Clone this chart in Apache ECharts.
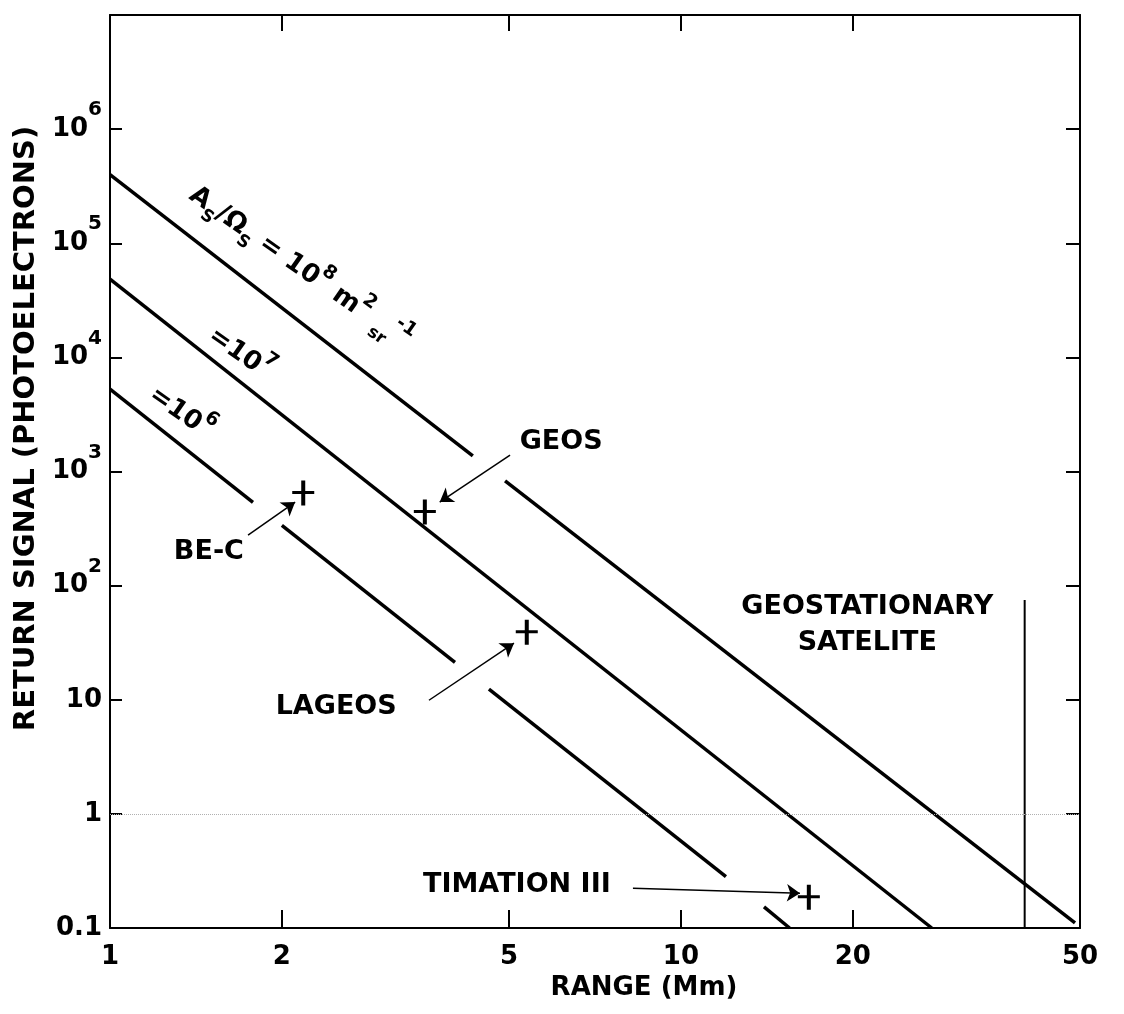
<!DOCTYPE html>
<html>
<head>
<meta charset="utf-8">
<title>Return signal vs range</title>
<script src="https://cdn.jsdelivr.net/npm/echarts@6/dist/echarts.min.js"></script>
<style>
	html, body { margin: 0; padding: 0; background: #fff; }
	#container { width: 1124px; height: 1014px; }
</style>
</head>
<body>
<div id="container"></div>
<script>
// axis values
var rangeLabels = [1, 2, 5, 10, 20, 50];
var rangeTicks = [2, 5, 10, 20];
var signalLabels = [0.1, 1, 10, 100, 1000, 10000, 100000, 1000000];
var signalTicks = [1, 10, 100, 1000, 10000, 100000, 1000000];

// A/Omega lines, pieces between the gaps : [range, signal]
var line1e8 = [
	[[1, 400000], [4.32, 1370]],
	[[4.92, 826], [49, 0.111]]
];
var line1e7 = [
	[[1, 48500], [27.5, 0.1]]
];
var line1e6 = [
	[[1, 5270], [1.78, 537]],
	[[2.0, 338], [4.02, 21.3]],
	[[4.61, 12.4], [11.99, 0.282]],
	[[13.98, 0.153], [15.5, 0.1]]
];

// geostationary range
var geoRange = 40;
var geoSignal = [0.1, 75];

// satellites
var satNames = ['BE-C', 'GEOS', 'LAGEOS', 'TIMATION III'];
var satRange = [2.18, 3.56, 5.37, 16.75];
var satSignal = [647, 441, 39, 0.186];

// arrows from the name to the satellite
var arrowStart = [[1.745, 277], [5.02, 1393], [3.62, 9.9], [8.24, 0.223]];
var arrowEnd = [[2.11, 540], [3.78, 540], [5.10, 31.3], [16.16, 0.202]];
var nameAt = [[1.49, 197], [6.17, 1811], [2.49, 8.6], [5.16, 0.237]];

var geoText = 'GEOSTATIONARY\nSATELITE';
var geoTextAt = [21.2, 45];

// exponent labels along the lines
var ratioExp = ['8', '7', '6'];
var ratioAt = [[2.15, 60700], [1.69, 10700], [1.33, 3250]];

var FONT = 'DejaVu Sans';

function exp_label(v)
{
	var e = Math.round(Math.log(v) / Math.LN10);
	if(e == -1) return '{n|0.1}';
	if(e == 0) return '{n|1}';
	if(e == 1) return '{n|10}';
	return '{n|10}{p|' + e + '}';
}

function make_series()
{
	var series = [];
	var groups = [line1e8, line1e7, line1e6];
	for(var g = 0; g < groups.length; g++)
	{
		for(var i = 0; i < groups[g].length; i++)
		{
			series.push({
				type: 'line',
				data: groups[g][i],
				showSymbol: false,
				silent: true,
				lineStyle: { color: '#000', width: 3.5 }
			});
		}
	}

	// geostationary
	series.push({
		type: 'line',
		data: [[geoRange, geoSignal[0]], [geoRange, geoSignal[1]]],
		showSymbol: false,
		silent: true,
		lineStyle: { color: '#000', width: 2 },
		markLine: {
			silent: true,
			symbol: 'none',
			label: { show: false },
			lineStyle: { type: 'dotted', color: '#b0b0b0', width: 1 },
			data: [{ yAxis: 1 }]
		}
	});

	// satellites
	var pts = [];
	for(var i = 0; i < satNames.length; i++)
	{
		pts.push({ name: satNames[i], value: [satRange[i], satSignal[i]] });
	}
	series.push({
		type: 'scatter',
		data: pts,
		symbol: 'path://M9,0 L13,0 L13,10 L22,10 L22,13 L13,13 L13,24 L9,24 L9,13 L0,13 L0,10 L9,10 Z',
		symbolSize: [22, 25],
		itemStyle: { color: '#000', opacity: 1 },
		silent: true
	});

	// arrows
	var arr = [];
	for(var i = 0; i < arrowStart.length; i++)
	{
		arr.push({ coords: [arrowStart[i], arrowEnd[i]] });
	}
	series.push({
		type: 'lines',
		coordinateSystem: 'cartesian2d',
		data: arr,
		symbol: ['none', 'arrow'],
		symbolSize: 13,
		silent: true,
		lineStyle: { color: '#000', width: 1.5, opacity: 1, curveness: 0 }
	});

	// texts
	var txt = [];
	for(var i = 0; i < satNames.length; i++)
	{
		txt.push({ value: nameAt[i], label: { formatter: satNames[i] } });
	}
	txt.push({ value: geoTextAt, label: { formatter: geoText, lineHeight: 36 } });
	txt.push({
		value: ratioAt[0],
		label: {
			rotate: -35,
			formatter: '{b|A}{s|S}{b|/Ω}{s|S}{b| = 10}{u|' + ratioExp[0] + '}{b| m}{u|2}{b| }{s|sr}{u|-1}'
		}
	});
	for(var i = 1; i < ratioAt.length; i++)
	{
		txt.push({
			value: ratioAt[i],
			label: { rotate: -35, formatter: '{b|=10}{u|' + ratioExp[i] + '}' }
		});
	}
	series.push({
		type: 'scatter',
		data: txt,
		symbolSize: 0,
		silent: true,
		itemStyle: { opacity: 1 },
		label: {
			show: true,
			position: 'inside',
			align: 'center',
			verticalAlign: 'middle',
			color: '#000',
			opacity: 1,
			fontFamily: FONT,
			fontWeight: 'bold',
			fontSize: 27,
			rich: {
				b: { fontFamily: FONT, fontWeight: 'bold', fontSize: 26, lineHeight: 30, color: '#000' },
				s: { fontFamily: FONT, fontWeight: 'bold', fontSize: 17, lineHeight: 17, padding: [18, 0, 0, 0], verticalAlign: 'top', color: '#000' },
				u: { fontFamily: FONT, fontWeight: 'bold', fontSize: 19, lineHeight: 19, padding: [0, 0, 18, 0], verticalAlign: 'bottom', color: '#000' }
			}
		}
	});
	return series;
}

function draw_chart()
{
	var dom = document.getElementById('container');
	var myChart = echarts.init(dom, null, { renderer: 'canvas' });
	var axisLine = { show: true, onZero: false, lineStyle: { color: '#000', width: 2 } };
	var tickStyle = { color: '#000', width: 2 };

	var option = {
		animation: false,
		backgroundColor: '#fff',
		grid: { left: 110, right: 44, top: 15, bottom: 86 },
		xAxis: [
			{
				type: 'log', logBase: 10, min: 1, max: 50, position: 'bottom',
				name: 'RANGE (Mm)', nameLocation: 'middle', nameGap: 42,
				nameTextStyle: { color: '#000', fontFamily: FONT, fontWeight: 'bold', fontSize: 26, padding: [0, 0, 0, 98] },
				axisLine: axisLine,
				axisTick: { show: true, inside: true, length: 18, customValues: rangeTicks, lineStyle: tickStyle },
				axisLabel: {
					show: true, margin: 16, customValues: rangeLabels,
					color: '#000', fontFamily: FONT, fontWeight: 'bold', fontSize: 26,
					formatter: function(v) { return String(Math.round(v)); }
				},
				splitLine: { show: false },
				minorTick: { show: false }
			},
			{
				type: 'log', logBase: 10, min: 1, max: 50, position: 'top',
				axisLine: axisLine,
				axisTick: { show: true, inside: true, length: 16, customValues: rangeTicks, lineStyle: tickStyle },
				axisLabel: { show: false },
				splitLine: { show: false }
			}
		],
		yAxis: [
			{
				type: 'log', logBase: 10, min: 0.1, max: 10000000, position: 'left',
				name: 'RETURN SIGNAL (PHOTOELECTRONS)', nameLocation: 'middle', nameRotate: 90, nameGap: 66,
				nameTextStyle: { color: '#000', fontFamily: FONT, fontWeight: 'bold', fontSize: 29, padding: [0, 0, 0, 86] },
				axisLine: axisLine,
				axisTick: { show: true, inside: true, length: 12, customValues: signalTicks, lineStyle: tickStyle },
				axisLabel: {
					show: true, margin: 8, customValues: signalLabels,
					formatter: exp_label,
					rich: {
						n: { color: '#000', fontFamily: FONT, fontWeight: 'bold', fontSize: 26, lineHeight: 26, verticalAlign: 'bottom' },
						p: { color: '#000', fontFamily: FONT, fontWeight: 'bold', fontSize: 20, lineHeight: 20, padding: [0, 0, 22, 0], verticalAlign: 'bottom' }
					}
				},
				splitLine: { show: false }
			},
			{
				type: 'log', logBase: 10, min: 0.1, max: 10000000, position: 'right',
				axisLine: axisLine,
				axisTick: { show: true, inside: true, length: 14, customValues: signalTicks, lineStyle: tickStyle },
				axisLabel: { show: false },
				splitLine: { show: false }
			}
		],
		series: make_series()
	};
	myChart.setOption(option, true);
}

draw_chart();
</script>
</body>
</html>
